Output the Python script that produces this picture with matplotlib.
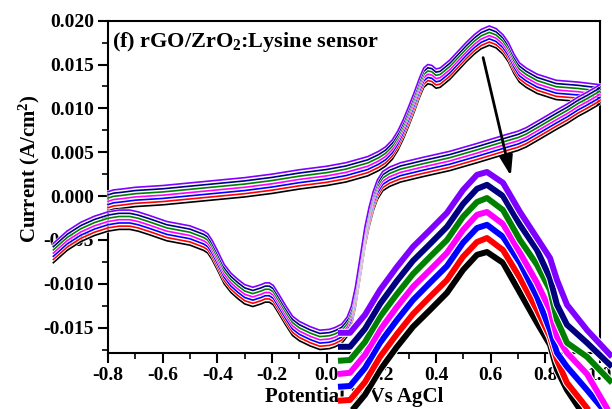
import matplotlib
matplotlib.use("Agg")
import matplotlib.pyplot as plt
import matplotlib.patheffects as pe
from matplotlib.ticker import MultipleLocator
import numpy as np

plt.rcParams['font.family'] = ['Liberation Serif', 'DejaVu Serif']
plt.rcParams['font.weight'] = 'bold'
plt.rcParams['mathtext.fontset'] = 'custom'
plt.rcParams['mathtext.rm'] = 'Liberation Serif:bold'
plt.rcParams['mathtext.bf'] = 'Liberation Serif:bold'
plt.rcParams['mathtext.default'] = 'rm'

# curve colours, bottom (black) to top (violet)
colors = ['black', '#ff0000', '#0000ff', '#ff00ff', '#008000', '#000080', '#8000ff']
# vertical drop of each curve below the top (violet) curve, A/cm2
drops = [0.0022, 0.00183, 0.00147, 0.0011, 0.00073, 0.00037, 0.0]

# top curve, forward scan (-0.8 -> 1.0 V)
fwd_x = [-0.80, -0.78, -0.75, -0.70, -0.60, -0.50, -0.40, -0.30, -0.20, -0.10, 0.00, 0.07,
         0.15, 0.19, 0.215, 0.24, 0.26, 0.28, 0.30, 0.32, 0.34, 0.355, 0.37, 0.385, 0.40,
         0.415, 0.45, 0.48, 0.51, 0.54, 0.565, 0.595, 0.62, 0.645, 0.665, 0.685, 0.705,
         0.73, 0.77, 0.84, 0.92, 1.00]
fwd_y = [0.0005, 0.0007, 0.0008, 0.0010, 0.0012, 0.0015, 0.0018, 0.0021, 0.0025, 0.0030,
         0.0034, 0.0038, 0.0045, 0.0051, 0.0056, 0.0064, 0.0074, 0.0087, 0.0102, 0.0118,
         0.0135, 0.0146, 0.0150, 0.0149, 0.0145, 0.0146, 0.0155, 0.0165, 0.0175, 0.0184,
         0.0190, 0.0194, 0.0191, 0.0184, 0.0175, 0.0162, 0.0152, 0.0146, 0.0139, 0.0132,
         0.0130, 0.0127]
# top curve, reverse scan (1.0 -> -1.0 V)
rev_x = [0.95, 0.92, 0.88, 0.84, 0.78, 0.73, 0.70, 0.656, 0.55, 0.45, 0.35, 0.27, 0.23,
         0.205, 0.185, 0.17, 0.155, 0.14, 0.125, 0.105, 0.09, 0.075, 0.055, 0.03, 0.01,
         -0.025, -0.06, -0.10, -0.125, -0.15, -0.175, -0.195, -0.21, -0.225, -0.24, -0.27,
         -0.30, -0.325, -0.35, -0.375, -0.40, -0.42, -0.435, -0.45, -0.50, -0.585, -0.65,
         -0.69, -0.72, -0.76, -0.80, -0.85, -0.90, -0.95, -1.00]
rev_y = [0.0118, 0.0113, 0.0105, 0.0098, 0.0087, 0.0078, 0.0074, 0.0070, 0.0060, 0.0051,
         0.0044, 0.0038, 0.0033, 0.0028, 0.0018, 0.0005, -0.0013, -0.0035, -0.0065, -0.0104,
         -0.0126, -0.0138, -0.0146, -0.0150, -0.0152, -0.0153, -0.0149, -0.0143, -0.0137,
         -0.0125, -0.0112, -0.0102, -0.0099, -0.0099, -0.0101, -0.0104, -0.0101, -0.0095,
         -0.0088, -0.0078, -0.0062, -0.0050, -0.0043, -0.0040, -0.0034, -0.0029, -0.0022,
         -0.0018, -0.0016, -0.0016, -0.0018, -0.0023, -0.0030, -0.0040, -0.0054]

# zoomed peak (inset), one curve per colour
ins_x = [0.446, 0.458, 0.473, 0.488, 0.505, 0.521, 0.538, 0.555, 0.571, 0.585, 0.595,
         0.611, 0.628, 0.645, 0.658, 0.665, 0.675, 0.695, 0.720]
ins_black = [0.01325, 0.01328, 0.01373, 0.01435, 0.01493, 0.01543, 0.01585, 0.01628, 0.01685,
             0.01723, 0.01730, 0.01703, 0.01628, 0.01553, 0.01498, 0.01435, 0.01385, 0.01310, 0.01223]
ins_red = [0.01358, 0.01360, 0.01405, 0.01468, 0.01525, 0.01575, 0.01618, 0.01660, 0.01718,
           0.01755, 0.01765, 0.01735, 0.01665, 0.01585, 0.01518, 0.01460, 0.01403, 0.01340, 0.01260]
ins_blue = [0.01393, 0.01395, 0.01440, 0.01503, 0.01560, 0.01610, 0.01653, 0.01695, 0.01753,
            0.01790, 0.01798, 0.01768, 0.01703, 0.01618, 0.01535, 0.01478, 0.01443, 0.01385, 0.01310]
ins_magenta = [0.01425, 0.01428, 0.01473, 0.01535, 0.01593, 0.01643, 0.01685, 0.01728, 0.01785,
               0.01823, 0.01830, 0.01800, 0.01728, 0.01653, 0.01585, 0.01518, 0.01478, 0.01425, 0.01318]
ins_green = [0.01458, 0.01460, 0.01505, 0.01568, 0.01625, 0.01675, 0.01718, 0.01760, 0.01818,
             0.01855, 0.01865, 0.01835, 0.01760, 0.01698, 0.01635, 0.01560, 0.01503, 0.01468, 0.01403]
ins_navy = [0.01493, 0.01493, 0.01538, 0.01600, 0.01658, 0.01708, 0.01750, 0.01793, 0.01850,
            0.01888, 0.01898, 0.01870, 0.01798, 0.01735, 0.01665, 0.01598, 0.01548, 0.01503, 0.01443]
ins_violet = [0.01528, 0.01528, 0.01573, 0.01635, 0.01693, 0.01743, 0.01785, 0.01828, 0.01885,
              0.01923, 0.01930, 0.01903, 0.01830, 0.01765, 0.01715, 0.01660, 0.01598, 0.01535, 0.01468]
ins_curves = [ins_black, ins_red, ins_blue, ins_magenta, ins_green, ins_navy, ins_violet]

fig = plt.figure(figsize=(6.12, 4.09), dpi=100)
ax = fig.add_axes([0.1765, 0.1369, 0.8039, 0.8125])

cv_x = np.array(fwd_x + rev_x)
cv_y = np.array(fwd_y + rev_y)
for c, d in zip(colors, drops):
    ax.plot(cv_x, cv_y - d, color=c, lw=1.2, zorder=3, clip_on=False,
            solid_joinstyle='round',
            path_effects=[pe.Stroke(linewidth=2.0, foreground='white'), pe.Normal()])

ax.set_xlim(-0.8, 1.0)
ax.set_ylim(-0.0179, 0.020)
ax.xaxis.set_major_locator(MultipleLocator(0.2))
ax.xaxis.set_minor_locator(MultipleLocator(0.1))
ax.yaxis.set_major_locator(MultipleLocator(0.005))
ax.yaxis.set_minor_locator(MultipleLocator(0.0025))
ax.xaxis.set_major_formatter(plt.FuncFormatter(lambda v, p: '%.1f' % v))
ax.yaxis.set_major_formatter(plt.FuncFormatter(lambda v, p: '%.3f' % v))
ax.tick_params(which='major', direction='out', length=7, width=1.5, labelsize=14, pad=3)
ax.tick_params(which='minor', direction='out', length=4, width=1.2)
for s in ax.spines.values():
    s.set_linewidth(1.5)
ax.set_xlabel('Potential V Vs AgCl', fontsize=15, fontweight='bold', labelpad=2)
ax.set_ylabel('Current (A/cm$^2$)', fontsize=15, fontweight='bold')
ax.yaxis.set_label_coords(-0.135, 0.556)

ax.text(0.008, 0.921, '(f) rGO/ZrO$_2$:Lysine sensor', transform=ax.transAxes,
        fontsize=16, fontweight='bold', va='baseline', ha='left')

ax.annotate('', xy=(0.676, 0.0020), xytext=(0.570, 0.0161),
            arrowprops=dict(arrowstyle='-|>,head_length=0.6,head_width=0.2',
                            color='black', lw=2, mutation_scale=20))

# inset with the magnified peak
ax2 = fig.add_axes([0.5392, 0.0, 0.4608, 0.6088])
ax2.axis('off')
ax2.patch.set_alpha(0)
for c, yv in zip(colors, ins_curves):
    ax2.plot(ins_x, yv, color=c, lw=4.3, solid_capstyle='butt', solid_joinstyle='round',
             path_effects=[pe.Stroke(linewidth=5.8, foreground='white'), pe.Normal()])
ax2.set_xlim(0.438, 0.720)
ax2.set_ylim(0.013375, 0.0196)

fig.savefig('out.png', dpi=100)
